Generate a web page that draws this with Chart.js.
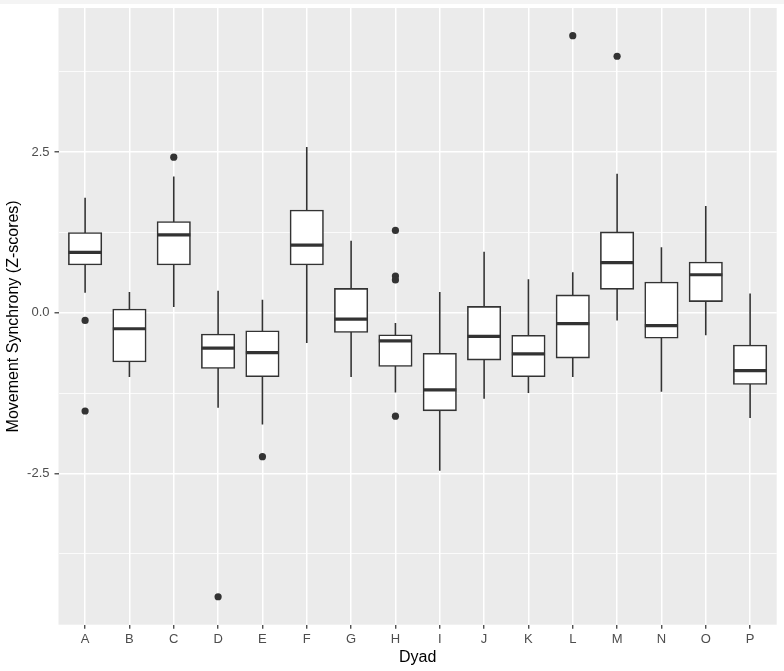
<!DOCTYPE html>
<html>
<head>
<meta charset="utf-8">
<script src="https://cdn.jsdelivr.net/npm/chart.js@4.4.1/dist/chart.umd.min.js"></script>
<style>
    html, body { margin: 0; padding: 0; background: #ffffff; }
    #wrap { width: 784px; height: 671px; position: relative; }
</style>
</head>
<body>
<div id="wrap"><canvas id="boxChart" width="784" height="671"></canvas></div>
<script>
// Dyads on the x axis
const dyads = ['A', 'B', 'C', 'D', 'E', 'F', 'G', 'H', 'I', 'J', 'K', 'L', 'M', 'N', 'O', 'P'];

// box plot statistics per dyad
const lowerWhisker = [0.31, -1.00, 0.09, -1.48, -1.74, -0.47, -1.00, -1.24, -2.46, -1.34, -1.25, -1.00, -0.12, -1.23, -0.35, -1.64];
const q1 = [0.75, -0.76, 0.75, -0.86, -0.99, 0.75, -0.30, -0.83, -1.52, -0.73, -0.99, -0.70, 0.37, -0.39, 0.18, -1.11];
const median = [0.94, -0.25, 1.21, -0.55, -0.62, 1.05, -0.10, -0.44, -1.20, -0.37, -0.64, -0.17, 0.78, -0.20, 0.59, -0.90];
const q3 = [1.24, 0.05, 1.41, -0.34, -0.29, 1.59, 0.37, -0.35, -0.64, 0.09, -0.36, 0.27, 1.25, 0.47, 0.78, -0.51];
const upperWhisker = [1.79, 0.32, 2.12, 0.34, 0.20, 2.58, 1.12, -0.16, 0.32, 0.95, 0.52, 0.63, 2.16, 1.02, 1.66, 0.30];

// outliers: dyad letter + value
const outlierDyad = ['A', 'A', 'C', 'D', 'E', 'H', 'H', 'H', 'H', 'L', 'M'];
const outlierValue = [-0.12, -1.53, 2.42, -4.42, -2.24, 1.28, 0.57, 0.51, -1.61, 4.31, 3.99];

// y axis tick labels (majors), minors are unlabeled grid lines
const yTickLabels = ['-2.5', '0.0', '2.5'];

const boxColor = '#333333';

const panelBackground = {
    id: 'panelBackground',
    beforeDraw(chart) {
        const { ctx, chartArea } = chart;
        ctx.save();
        ctx.fillStyle = '#f4f4f4';
        ctx.fillRect(0, 0, chart.width, 4);
        ctx.fillStyle = '#ebebeb';
        ctx.fillRect(chartArea.left, chartArea.top, chartArea.right - chartArea.left, chartArea.bottom - chartArea.top);
        ctx.restore();
    }
};

function isMajor(v) {
    return Math.abs(v / 2.5 - Math.round(v / 2.5)) < 1e-6;
}

document.addEventListener('DOMContentLoaded', () => {
    const pos = dyads.map((d, i) => i + 1);

    const whiskerData = pos.map((x, i) => ({ x: x, y: [lowerWhisker[i], upperWhisker[i]] }));
    const boxData = pos.map((x, i) => ({ x: x, y: [q1[i], q3[i]] }));
    const medianData = pos.map((x, i) => ({ x: x, y: median[i] }));
    const outlierData = outlierDyad.map((d, i) => ({ x: dyads.indexOf(d) + 1, y: outlierValue[i] }));

    const ctx = document.getElementById('boxChart').getContext('2d');
    new Chart(ctx, {
        type: 'bar',
        data: {
            datasets: [{
                type: 'scatter',
                label: 'outliers',
                data: outlierData,
                pointRadius: 3.6,
                pointBackgroundColor: boxColor,
                pointBorderWidth: 0,
                pointHoverRadius: 3.6
            }, {
                type: 'scatter',
                label: 'median',
                data: medianData,
                pointStyle: 'line',
                pointRadius: 16.6,
                pointHoverRadius: 16.6,
                borderColor: boxColor,
                borderWidth: 3.2,
                pointBorderWidth: 3.2,
                pointHoverBorderWidth: 3.2
            }, {
                label: 'box',
                data: boxData,
                grouped: false,
                barThickness: 32.5,
                inflateAmount: 0.8,
                backgroundColor: '#ffffff',
                borderColor: boxColor,
                borderWidth: 1.6,
                borderSkipped: false
            }, {
                label: 'whisker',
                data: whiskerData,
                grouped: false,
                barThickness: 1.6,
                inflateAmount: 0,
                backgroundColor: boxColor,
                borderWidth: 0
            }]
        },
        options: {
            responsive: false,
            animation: false,
            events: [],
            layout: { autoPadding: false, padding: { left: 0, top: 8, right: 7.3, bottom: 0 } },
            plugins: {
                legend: { display: false },
                tooltip: { enabled: false }
            },
            scales: {
                x: {
                    type: 'linear',
                    min: 0.4,
                    max: 16.6,
                    offset: false,
                    afterFit(scale) {
                        scale.height = 46.3;
                        scale.paddingLeft = 0;
                        scale.paddingRight = 0;
                    },
                    grid: {
                        offset: false,
                        color: '#ffffff',
                        lineWidth: 1.5,
                        tickColor: boxColor,
                        tickLength: 4,
                        tickWidth: 1.2
                    },
                    border: { display: false },
                    ticks: {
                        stepSize: 1,
                        includeBounds: false,
                        autoSkip: false,
                        maxRotation: 0,
                        padding: 3,
                        color: '#4d4d4d',
                        font: { family: '"Liberation Sans", Arial, sans-serif', size: 13 },
                        callback: (v) => dyads[Math.round(v) - 1] || ''
                    },
                    title: {
                        display: true,
                        text: 'Dyad',
                        color: '#000000',
                        padding: { top: 0, bottom: 4 },
                        font: { family: '"Liberation Sans", Arial, sans-serif', size: 16 }
                    }
                },
                y: {
                    type: 'linear',
                    min: -4.855,
                    max: 4.741,
                    afterFit(scale) {
                        scale.width = 58.5;
                        scale.paddingTop = 0;
                        scale.paddingBottom = 0;
                    },
                    grid: {
                        color: '#ffffff',
                        lineWidth: (c) => (c.tick && isMajor(c.tick.value)) ? 1.6 : 0.8,
                        tickColor: (c) => (c.tick && isMajor(c.tick.value)) ? boxColor : 'rgba(0,0,0,0)',
                        tickLength: 4,
                        tickWidth: 1.2
                    },
                    border: { display: false },
                    ticks: {
                        stepSize: 1.25,
                        includeBounds: false,
                        autoSkip: false,
                        padding: 5,
                        color: '#4d4d4d',
                        font: { family: '"Liberation Sans", Arial, sans-serif', size: 13 },
                        callback: (v) => {
                            if (!isMajor(v)) return '';
                            const idx = Math.round(v / 2.5) + 1;
                            return yTickLabels[idx] || '';
                        }
                    },
                    title: {
                        display: true,
                        text: 'Movement Synchrony (Z-scores)',
                        color: '#000000',
                        padding: { top: 4, bottom: 0 },
                        font: { family: '"Liberation Sans", Arial, sans-serif', size: 16 }
                    }
                }
            }
        },
        plugins: [panelBackground]
    });
});
</script>
</body>
</html>
